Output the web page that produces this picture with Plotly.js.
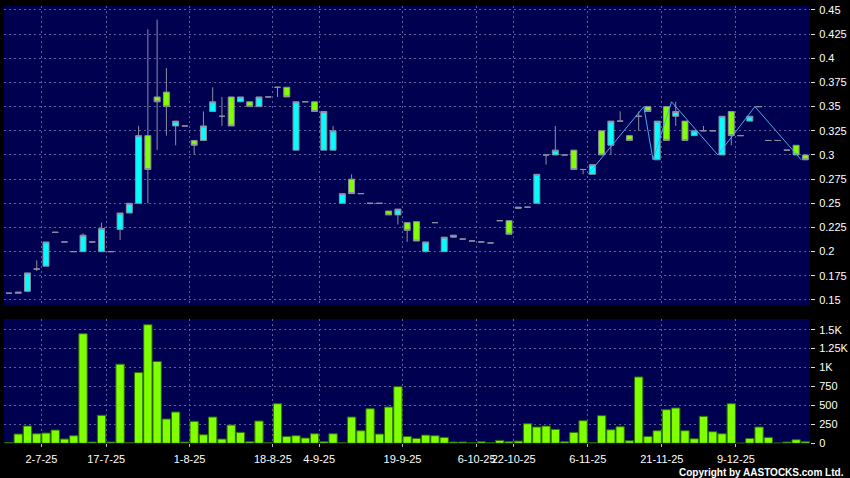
<!DOCTYPE html>
<html>
<head>
<meta charset="utf-8">
<script src="https://cdn.plot.ly/plotly-3.0.1.min.js"></script>
<style>
  html, body { margin: 0; padding: 0; background: #000; }
  #chart { width: 850px; height: 478px; }
</style>
</head>
<body>
<div id="chart"></div>
<script>
// ---- data (one entry per trading session shown) ----
const openP  = [0.157,0.157,0.159,0.182,0.185,0.220,0.210,0.200,0.200,0.210,
                0.200,0.200,0.223,0.240,0.250,0.320,0.360,0.365,0.330,0.330,
                0.315,0.315,0.345,0.340,0.360,0.355,0.355,0.350,0.360,0.370,
                0.370,0.305,0.355,0.355,0.305,0.305,0.250,0.275,0.260,0.250,
                0.250,0.242,0.238,0.230,0.231,0.200,0.230,0.200,0.215,0.213,
                0.211,0.210,0.209,0.232,0.232,0.246,0.246,0.250,0.300,0.300,
                0.300,0.305,0.285,0.280,0.325,0.310,0.335,0.320,0.340,0.350,
                0.295,0.350,0.340,0.335,0.320,0.325,0.325,0.300,0.345,0.320,
                0.335,0.350,0.315,0.315,0.305,0.310,0.300];
const highP  = [0.157,0.158,0.178,0.191,0.210,0.220,0.210,0.200,0.219,0.210,
                0.230,0.200,0.240,0.250,0.330,0.430,0.440,0.390,0.335,0.330,
                0.315,0.345,0.370,0.360,0.360,0.360,0.355,0.360,0.360,0.370,
                0.370,0.355,0.355,0.355,0.345,0.330,0.260,0.280,0.260,0.250,
                0.250,0.242,0.244,0.230,0.231,0.210,0.230,0.215,0.217,0.213,
                0.211,0.210,0.209,0.232,0.232,0.246,0.246,0.280,0.300,0.330,
                0.300,0.305,0.285,0.290,0.325,0.335,0.345,0.320,0.345,0.350,
                0.335,0.350,0.355,0.335,0.325,0.330,0.325,0.340,0.345,0.320,
                0.340,0.350,0.315,0.315,0.305,0.310,0.300];
const lowP   = [0.157,0.157,0.159,0.180,0.185,0.220,0.210,0.200,0.200,0.210,
                0.200,0.200,0.212,0.240,0.250,0.250,0.305,0.320,0.310,0.330,
                0.300,0.315,0.345,0.330,0.330,0.355,0.350,0.350,0.360,0.360,
                0.360,0.305,0.355,0.345,0.305,0.305,0.250,0.260,0.260,0.249,
                0.250,0.238,0.228,0.210,0.211,0.199,0.230,0.200,0.215,0.213,
                0.211,0.210,0.209,0.232,0.218,0.245,0.246,0.250,0.290,0.300,
                0.300,0.285,0.280,0.280,0.300,0.300,0.335,0.315,0.325,0.345,
                0.295,0.315,0.330,0.315,0.320,0.325,0.325,0.300,0.310,0.320,
                0.335,0.350,0.315,0.315,0.305,0.300,0.295];
const closeP = [0.157,0.158,0.178,0.182,0.210,0.220,0.210,0.200,0.217,0.210,
                0.224,0.200,0.240,0.250,0.320,0.285,0.355,0.350,0.335,0.330,
                0.310,0.330,0.355,0.340,0.330,0.360,0.350,0.360,0.360,0.370,
                0.360,0.355,0.355,0.345,0.345,0.325,0.260,0.260,0.260,0.250,
                0.250,0.238,0.244,0.222,0.211,0.210,0.230,0.215,0.217,0.213,
                0.211,0.210,0.209,0.232,0.218,0.245,0.246,0.280,0.300,0.305,
                0.300,0.285,0.285,0.290,0.300,0.335,0.335,0.315,0.340,0.345,
                0.335,0.315,0.345,0.315,0.325,0.325,0.325,0.340,0.320,0.320,
                0.340,0.350,0.315,0.315,0.305,0.300,0.295];
const volumeK = [10,122,228,126,135,175,56,100,1447,16,
                 369,16,1045,7,934,1566,1080,321,413,16,
                 290,113,347,56,241,144,20,294,7,523,
                 91,100,69,126,20,126,7,347,166,457,
                 122,479,748,91,64,108,100,78,16,16,
                 7,20,7,38,20,29,259,215,227,184,
                 20,144,299,7,365,179,219,34,876,91,
                 166,444,466,166,60,356,153,126,523,3,
                 64,215,78,3,16,47,20];
// zigzag overlay (session index, price)
const zigSlots  = [63, 69, 70, 72, 77, 81, 86];
const zigPrices = [0.280, 0.350, 0.295, 0.355, 0.300, 0.350, 0.295];
// date ticks
const dateTickSlots  = [4, 11, 20, 29, 34, 43, 51, 55, 63, 71, 79];
const dateTickLabels = ['2-7-25','17-7-25','1-8-25','18-8-25','4-9-25','19-9-25',
                        '6-10-25','22-10-25','6-11-25','21-11-25','9-12-25'];
const priceTicks = [0.15,0.175,0.2,0.225,0.25,0.275,0.3,0.325,0.35,0.375,0.4,0.425,0.45];
const priceTickLabels = ['0.15','0.175','0.2','0.225','0.25','0.275','0.3','0.325','0.35','0.375','0.4','0.425','0.45'];
const volTicks = [0,250,500,750,1000,1250,1500];
const volTickLabels = ['0','250','500','750','1K','1.25K','1.5K'];

// ---- build ----
const idx = openP.map((_, i) => i);
const gridPos = dateTickSlots.map(s => s - 0.5);
const gridColor = '#5e5e9c';
const fontTick = {family: 'Liberation Sans, Arial, sans-serif', size: 11, color: '#ffffff'};

const candle = {
  type: 'candlestick', x: idx, open: openP, high: highP, low: lowP, close: closeP,
  xaxis: 'x', yaxis: 'y',
  increasing: {line: {color: '#8e8ea0', width: 1}, fillcolor: '#00ffff'},
  decreasing: {line: {color: '#8e8ea0', width: 1}, fillcolor: '#80ff00'},
  whiskerwidth: 0, showlegend: false, hoverinfo: 'skip'
};
const zig = {
  type: 'scatter', mode: 'lines', x: zigSlots.map(s => s - 0.45), y: zigPrices,
  xaxis: 'x', yaxis: 'y', line: {color: '#4aaaf0', width: 1},
  showlegend: false, hoverinfo: 'skip'
};
const vol = {
  type: 'bar', x: idx, y: volumeK, xaxis: 'x2', yaxis: 'y2',
  marker: {color: '#80ff00', line: {color: '#2d6e00', width: 1}},
  showlegend: false, hoverinfo: 'skip'
};

const xRange = [-0.535, 86.5];
const commonX = {
  range: xRange, showgrid: true, gridcolor: gridColor, griddash: '2px,3px', gridwidth: 1,
  zeroline: false, showline: false, tickmode: 'array', tickvals: gridPos
};

const layout = {
  width: 850, height: 478,
  paper_bgcolor: '#000000', plot_bgcolor: '#000050',
  margin: {l: 4, r: 40, t: 0, b: 0},
  boxgap: 0.08, bargap: 0.1,
  showlegend: false,
  xaxis: Object.assign({}, commonX, {
    domain: [0, 1], anchor: 'y', showticklabels: false, ticks: '',
    rangeslider: {visible: false}
  }),
  xaxis2: Object.assign({}, commonX, {
    domain: [0, 1], anchor: 'y2', matches: 'x', showticklabels: true,
    ticktext: dateTickLabels, ticks: 'outside', ticklen: 3, tickcolor: '#bbbbbb',
    tickfont: fontTick, tickangle: 0, ticklabelstandoff: 3
  }),
  yaxis: {
    domain: [0.3605, 0.9881], range: [0.1441, 0.4544], side: 'right', anchor: 'x',
    tickmode: 'array', tickvals: priceTicks, ticktext: priceTickLabels,
    ticks: 'outside', ticklen: 4, tickcolor: '#dddddd', tickfont: fontTick, ticklabelstandoff: 2,
    showgrid: true, gridcolor: gridColor, griddash: '2px,3px', zeroline: false, showline: false
  },
  yaxis2: {
    domain: [0.0726, 0.3326], range: [0, 1641], side: 'right', anchor: 'x2',
    tickmode: 'array', tickvals: volTicks, ticktext: volTickLabels,
    ticks: 'outside', ticklen: 4, tickcolor: '#dddddd', tickfont: fontTick, ticklabelstandoff: 2,
    showgrid: true, gridcolor: gridColor, griddash: '2px,3px', zeroline: false, showline: false
  },
  annotations: [{
    text: 'Copyright by AASTOCKS.com Ltd.', xref: 'paper', yref: 'paper',
    x: 1.0447, y: 0.0119, xanchor: 'right', yanchor: 'middle', showarrow: false,
    font: {family: 'Liberation Sans, Arial, sans-serif', size: 10, color: '#ffffff', weight: 'bold'}
  }]
};

Plotly.newPlot('chart', [candle, zig, vol], layout, {staticPlot: true, displayModeBar: false});
</script>
</body>
</html>
